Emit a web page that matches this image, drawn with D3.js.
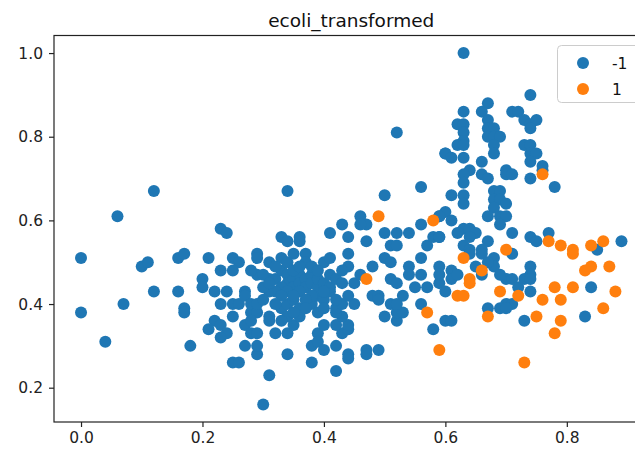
<!DOCTYPE html>
<html>
<head>
<meta charset="utf-8">
<script src="https://cdn.jsdelivr.net/npm/d3@7"></script>
<style>
  html, body { margin: 0; padding: 0; background: #fff; }
  svg { display: block; }
  text { font-family: "DejaVu Sans", sans-serif; }
</style>
</head>
<body>
<svg id="chart" width="635" height="450"></svg>
<script>
// ---- data (mcg, gvh) ----
const chartTitle = "ecoli_transformed";
const classLabels = ["-1", "1"];
const xTicks = [0.0, 0.2, 0.4, 0.6, 0.8];
const yTicks = [0.2, 0.4, 0.6, 0.8, 1.0];

const negPoints = [
  // low x
  [0.00,0.51],[0.00,0.38],[0.04,0.31],[0.06,0.61],[0.07,0.40],[0.10,0.49],[0.11,0.50],[0.12,0.67],
  [0.12,0.43],[0.16,0.51],[0.17,0.52],[0.16,0.43],[0.17,0.39],[0.17,0.38],[0.18,0.30],[0.20,0.46],
  [0.20,0.44],[0.21,0.51],[0.22,0.43],[0.24,0.43],[0.23,0.58],[0.24,0.57],[0.25,0.51],[0.26,0.50],
  [0.23,0.48],[0.25,0.48],[0.29,0.52],[0.29,0.47],[0.27,0.43],[0.23,0.40],[0.25,0.40],[0.26,0.40],
  [0.27,0.42],[0.25,0.37],[0.28,0.38],[0.22,0.36],[0.21,0.34],[0.23,0.35],[0.24,0.33],[0.23,0.32],
  [0.27,0.35],[0.28,0.33],[0.27,0.30],[0.29,0.28],[0.25,0.26],[0.26,0.26],
  // lower middle
  [0.30,0.16],[0.31,0.23],[0.34,0.28],[0.38,0.26],[0.42,0.24],[0.44,0.28],[0.44,0.27],[0.47,0.29],
  [0.47,0.28],[0.49,0.29],[0.58,0.34],[0.60,0.36],[0.56,0.40],[0.29,0.33],[0.29,0.30],[0.32,0.33],
  [0.34,0.33],[0.35,0.35],[0.38,0.30],[0.39,0.33],[0.39,0.31],[0.40,0.29],[0.42,0.30],[0.43,0.33],
  [0.44,0.34],[0.44,0.35],[0.40,0.35],[0.42,0.35],[0.43,0.37],[0.42,0.38],[0.42,0.39],[0.43,0.40],
  [0.45,0.40],[0.44,0.42],[0.48,0.42],[0.49,0.42],[0.49,0.41],[0.50,0.37],[0.52,0.36],[0.52,0.38],
  [0.53,0.38],[0.53,0.42],[0.51,0.40],[0.52,0.40],[0.28,0.40],[0.29,0.38],[0.31,0.37],[0.31,0.36],
  [0.28,0.36],[0.33,0.39],[0.34,0.40],[0.35,0.41],[0.36,0.39],[0.38,0.40],[0.29,0.40],[0.39,0.42],
  [0.41,0.43],[0.42,0.41],
  // central cluster
  [0.29,0.51],[0.31,0.50],[0.33,0.51],[0.35,0.52],[0.37,0.52],[0.37,0.50],[0.40,0.50],[0.41,0.51],
  [0.44,0.52],[0.44,0.49],[0.33,0.56],[0.34,0.55],[0.36,0.56],[0.36,0.55],[0.31,0.46],[0.31,0.43],
  [0.28,0.48],[0.30,0.47],[0.32,0.46],[0.33,0.48],[0.34,0.47],[0.34,0.45],[0.35,0.46],[0.35,0.44],
  [0.36,0.47],[0.36,0.45],[0.37,0.46],[0.37,0.44],[0.38,0.47],[0.38,0.45],[0.39,0.44],[0.39,0.46],
  [0.40,0.45],[0.41,0.47],[0.41,0.44],[0.42,0.46],[0.33,0.44],[0.32,0.43],[0.34,0.43],[0.36,0.43],
  [0.38,0.42],[0.35,0.42],[0.33,0.42],[0.30,0.44],[0.31,0.45],[0.32,0.49],[0.34,0.50],[0.35,0.48],
  [0.36,0.49],[0.38,0.49],[0.39,0.48],[0.30,0.41],[0.32,0.40],[0.37,0.41],[0.40,0.41],[0.40,0.43],
  [0.43,0.45],[0.43,0.48],[0.45,0.45],[0.46,0.47],[0.34,0.37],[0.36,0.37],[0.37,0.39],[0.33,0.36],
  [0.35,0.38],[0.39,0.38],[0.40,0.39],
  // middle right
  [0.52,0.81],[0.60,0.76],[0.34,0.67],[0.50,0.66],[0.56,0.68],[0.46,0.61],[0.47,0.59],[0.46,0.59],
  [0.43,0.59],[0.41,0.57],[0.44,0.56],[0.47,0.55],[0.50,0.57],[0.52,0.57],[0.54,0.57],[0.51,0.54],
  [0.52,0.54],[0.56,0.59],[0.57,0.54],[0.58,0.56],[0.59,0.56],[0.56,0.51],[0.59,0.61],[0.60,0.62],
  [0.48,0.49],[0.50,0.51],[0.51,0.50],[0.54,0.49],[0.54,0.47],[0.51,0.46],[0.52,0.45],[0.56,0.47],
  [0.59,0.49],[0.61,0.48],[0.57,0.44],[0.59,0.45],[0.55,0.44],[0.60,0.43],
  // upper right
  [0.63,1.00],[0.74,0.90],[0.67,0.88],[0.66,0.86],[0.67,0.84],[0.63,0.86],[0.71,0.86],[0.72,0.86],
  [0.73,0.84],[0.74,0.83],[0.75,0.84],[0.62,0.83],[0.63,0.83],[0.63,0.81],[0.63,0.79],[0.67,0.82],
  [0.68,0.82],[0.67,0.80],[0.68,0.80],[0.69,0.80],[0.74,0.82],[0.62,0.78],[0.63,0.78],[0.68,0.78],
  [0.68,0.76],[0.73,0.78],[0.74,0.78],[0.60,0.76],[0.61,0.75],[0.63,0.75],[0.66,0.74],[0.74,0.76],
  [0.75,0.76],[0.74,0.74],[0.64,0.72],[0.70,0.72],[0.76,0.72],[0.63,0.71],[0.63,0.69],[0.66,0.71],
  [0.67,0.70],[0.70,0.71],[0.71,0.71],[0.74,0.70],[0.76,0.73],[0.78,0.68],[0.61,0.66],[0.63,0.66],
  [0.63,0.64],[0.68,0.67],[0.69,0.67],[0.68,0.65],[0.69,0.65],[0.70,0.64],[0.68,0.63],[0.67,0.61],
  [0.69,0.61],[0.70,0.61],[0.59,0.61],[0.61,0.60],[0.69,0.59],[0.63,0.58],[0.64,0.58],[0.65,0.57],
  [0.71,0.57],[0.62,0.57],[0.64,0.56],[0.67,0.55],[0.63,0.54],[0.64,0.53],[0.66,0.53],[0.64,0.52],
  [0.66,0.52],[0.59,0.56],[0.74,0.56],[0.75,0.55],[0.77,0.57],[0.85,0.53],[0.89,0.55],[0.71,0.52],
  [0.68,0.51],[0.68,0.49],[0.74,0.49],[0.74,0.47],[0.70,0.46],[0.71,0.46],[0.73,0.46],[0.74,0.46],
  [0.72,0.44],[0.84,0.44],[0.61,0.46],[0.59,0.47],[0.62,0.47],[0.74,0.43],[0.65,0.49],[0.67,0.50],
  [0.66,0.47],[0.69,0.47],[0.67,0.39],[0.69,0.39],[0.70,0.40],[0.71,0.40],[0.70,0.39],[0.83,0.37],
  [0.73,0.36],[0.61,0.36]
];

const posPoints = [
  [0.49,0.61],[0.58,0.60],[0.47,0.46],[0.57,0.38],[0.59,0.29],[0.76,0.71],[0.77,0.55],[0.79,0.54],
  [0.81,0.53],[0.81,0.52],[0.84,0.54],[0.86,0.55],[0.70,0.53],[0.63,0.51],[0.66,0.48],[0.64,0.46],
  [0.64,0.45],[0.84,0.49],[0.83,0.48],[0.87,0.49],[0.78,0.44],[0.81,0.44],[0.88,0.43],[0.69,0.43],
  [0.62,0.42],[0.63,0.42],[0.67,0.37],[0.72,0.42],[0.76,0.41],[0.79,0.41],[0.86,0.39],[0.75,0.37],
  [0.79,0.36],[0.78,0.33],[0.73,0.26]
];

const colors = ["#1f77b4", "#ff7f0e"];

// ---- layout ----
const svg = d3.select("#chart");
const x = d3.scaleLinear().domain([-0.0445, 0.9345]).range([54, 648.5]);
const y = d3.scaleLinear().domain([0.118, 1.042]).range([422, 35.5]);
const r = 6;

const x0 = x.range()[0], x1 = x.range()[1];
const yTop = y.range()[1], yBot = y.range()[0];

svg.append("clipPath").attr("id", "clip")
  .append("rect").attr("x", x0).attr("y", yTop).attr("width", x1 - x0).attr("height", yBot - yTop);

const g = svg.append("g").attr("clip-path", "url(#clip)");
g.selectAll("circle.neg").data(negPoints).join("circle")
  .attr("class", "neg").attr("cx", d => x(d[0])).attr("cy", d => y(d[1])).attr("r", r)
  .attr("fill", colors[0]);
g.selectAll("circle.pos").data(posPoints).join("circle")
  .attr("class", "pos").attr("cx", d => x(d[0])).attr("cy", d => y(d[1])).attr("r", r)
  .attr("fill", colors[1]);

// axes
const xAxis = d3.axisBottom(x).tickValues(xTicks).tickFormat(d3.format(".1f")).tickSize(5).tickPadding(5);
const yAxis = d3.axisLeft(y).tickValues(yTicks).tickFormat(d3.format(".1f")).tickSize(5).tickPadding(6);

const gx = svg.append("g").attr("transform", `translate(0,${yBot})`).call(xAxis);
const gy = svg.append("g").attr("transform", `translate(${x0},0)`).call(yAxis);
[gx, gy].forEach(a => {
  a.select(".domain").remove();
  a.selectAll(".tick line").attr("stroke", "#222").attr("stroke-width", 1.2);
  a.selectAll(".tick text").attr("fill", "#222").style("font-size", "15.5px")
    .style("font-family", "'DejaVu Sans', sans-serif");
});

// frame
svg.append("rect").attr("x", x0).attr("y", yTop).attr("width", x1 - x0).attr("height", yBot - yTop)
  .attr("fill", "none").attr("stroke", "#222").attr("stroke-width", 1.2);

// title
svg.append("text").attr("x", (x0 + x1) / 2).attr("y", 27).attr("text-anchor", "middle")
  .style("font-size", "18.5px").attr("fill", "#111").text(chartTitle);

// legend
const lg = svg.append("g");
lg.append("rect").attr("x", 557.5).attr("y", 45.5).attr("width", 84).attr("height", 57).attr("rx", 4)
  .attr("fill", "#fff").attr("fill-opacity", 0.8).attr("stroke", "#ccc").attr("stroke-width", 1);
classLabels.forEach((lab, i) => {
  const cy = 63 + i * 26;
  lg.append("circle").attr("cx", 583).attr("cy", cy).attr("r", r).attr("fill", colors[i]);
  lg.append("text").attr("x", 612).attr("y", cy + 5.5).style("font-size", "15.5px").attr("fill", "#111").text(lab);
});
</script>
</body>
</html>
